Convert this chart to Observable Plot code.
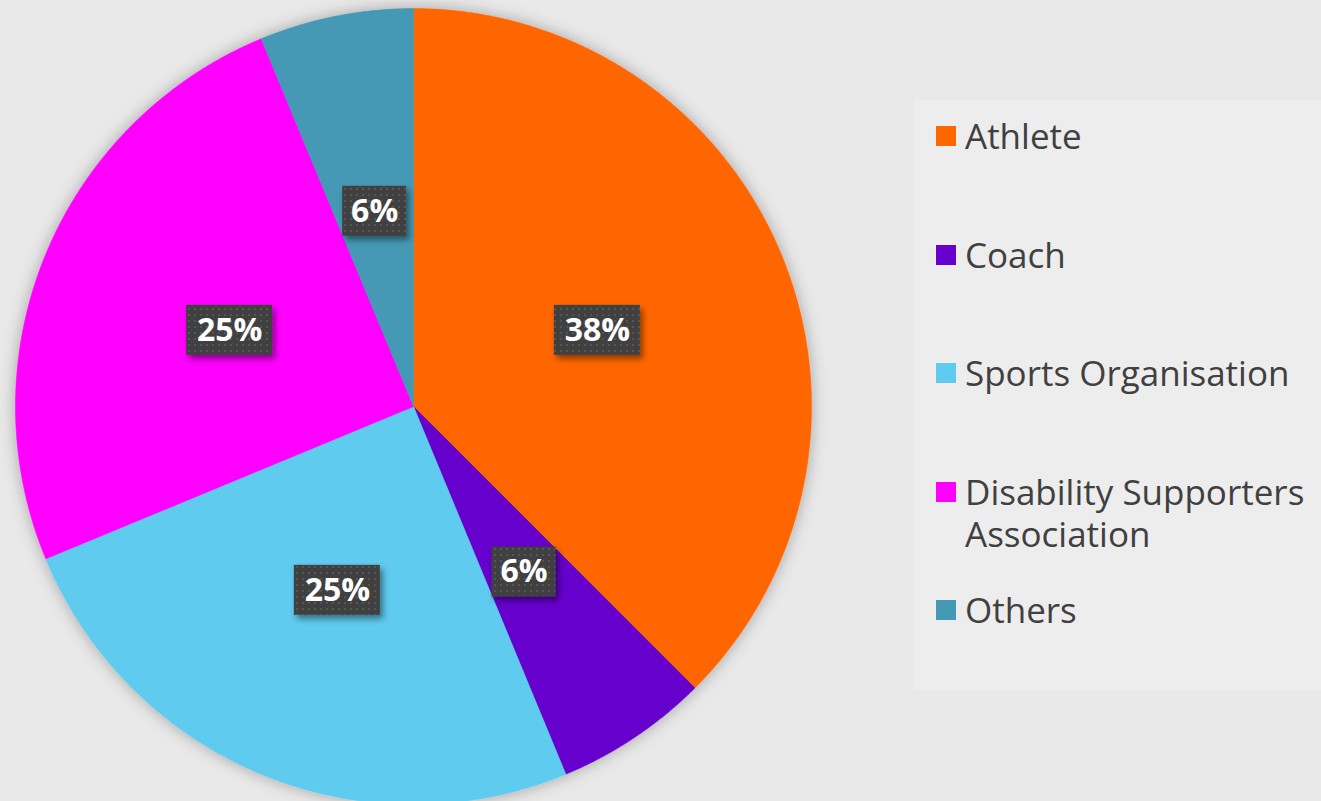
<!DOCTYPE html>
<html><head><meta charset="utf-8">
<script src="https://cdn.jsdelivr.net/npm/d3@7"></script>
<script src="https://cdn.jsdelivr.net/npm/@observablehq/plot@0.6"></script>
<style>
html,body{margin:0;padding:0;background:#e9e9e9;width:1321px;height:801px;overflow:hidden;}
#wrap{position:relative;width:1321px;height:801px;}
#chart{position:absolute;left:0;top:0;}
#legend{position:absolute;left:914px;top:100px;width:407px;height:590px;background:#ededed;box-sizing:border-box;padding:15px 0 0 22px;font-family:"Open Sans",sans-serif;font-size:35px;color:#404040;}
.item{display:flex;align-items:flex-start;height:118.5px;line-height:42px;}
.sw{width:20px;height:20px;flex:none;margin-top:11px;margin-right:9px;}
.lab{width:355px;}
</style>
</head><body>
<div id="wrap"><div id="chart"></div><div id="legend"></div></div>
<script>
const categories = ["Athlete", "Coach", "Sports Organisation", "Disability Supporters Association", "Others"];
const shares = [37.5, 6.25, 25, 25, 6.25];
const labels = ["38%", "6%", "25%", "25%", "6%"];
const colors = ["#ff6600", "#6600cc", "#5ecbef", "#ff00ff", "#4499b5"];

const R = 398, CX = 413, CY = 406;
const arcs = d3.pie().sort(null).value(d => d)(shares);

const piePts = [];
arcs.forEach((a, i) => {
  const cat = categories[i];
  piePts.push({cat, x: 0, y: 0});
  const n = Math.max(2, Math.ceil((a.endAngle - a.startAngle) / 0.004));
  for (let k = 0; k <= n; k++) {
    const t = a.startAngle + (a.endAngle - a.startAngle) * k / n;
    piePts.push({cat, x: Math.sin(t), y: Math.cos(t)});
  }
  piePts.push({cat, x: 0, y: 0});
});

const labelData = arcs.map((a, i) => {
  const m = (a.startAngle + a.endAngle) / 2;
  const x = 0.5 * Math.sin(m), y = 0.5 * Math.cos(m);
  const hw = (labels[i].length * 22 + 20) / 2 / R, hh = 25 / R;
  return {cat: categories[i], label: labels[i], x, y, x1: x - hw, x2: x + hw, y1: y - hh, y2: y + hh};
});

const plot = Plot.plot({
  width: 1321, height: 801,
  x: {domain: [-1, 1], range: [CX - R, CX + R], axis: null},
  y: {domain: [-1, 1], range: [CY + R, CY - R], axis: null},
  color: {domain: categories, range: colors},
  style: {background: "transparent", overflow: "visible"},
  marks: [
    Plot.line(piePts, {x: "x", y: "y", z: "cat", fill: "cat", stroke: "cat", strokeWidth: 0.6, curve: "linear"}),
    Plot.rect(labelData, {x1: "x1", x2: "x2", y1: "y1", y2: "y2", fill: "url(#dots)"}),
    Plot.text(labelData, {x: "x", y: "y", text: "label", fill: "white", fontSize: 32, fontWeight: "bold", fontFamily: "Open Sans"})
  ]
});

const svg = d3.select(plot);
const defs = svg.insert("defs", ":first-child");
const pat = defs.append("pattern").attr("id", "dots").attr("width", 6).attr("height", 6).attr("patternUnits", "userSpaceOnUse");
pat.append("rect").attr("width", 6).attr("height", 6).attr("fill", "#404040");
pat.append("rect").attr("x", 2).attr("y", 2).attr("width", 2).attr("height", 2).attr("fill", "#555555");
const f1 = defs.append("filter").attr("id", "pieShadow").attr("x", "-10%").attr("y", "-10%").attr("width", "120%").attr("height", "120%");
f1.append("feDropShadow").attr("dx", 0).attr("dy", 0).attr("stdDeviation", 8).attr("flood-color", "#000").attr("flood-opacity", 0.3);
const f2 = defs.append("filter").attr("id", "boxShadow").attr("x", "-30%").attr("y", "-30%").attr("width", "160%").attr("height", "160%");
f2.append("feDropShadow").attr("dx", 3).attr("dy", 4).attr("stdDeviation", 3).attr("flood-color", "#000").attr("flood-opacity", 0.45);
svg.select('g[aria-label="line"]').attr("filter", "url(#pieShadow)");
svg.select('g[aria-label="rect"]').attr("filter", "url(#boxShadow)");

document.getElementById("chart").appendChild(plot);

const legend = d3.select("#legend");
categories.forEach((c, i) => {
  const it = legend.append("div").attr("class", "item");
  it.append("div").attr("class", "sw").style("background", colors[i]);
  it.append("div").attr("class", "lab").text(c);
});
</script>
</body></html>
